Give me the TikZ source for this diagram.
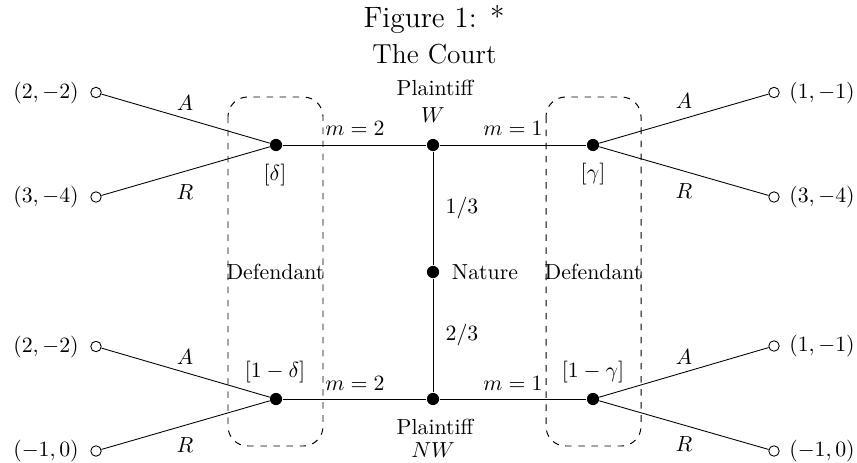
\documentclass[tikz,border=0pt]{standalone}
\begin{document}
\begin{tikzpicture}[x=0.4587pt,y=-0.4587pt,
  dec/.style={circle, fill, inner sep=0pt, minimum size=5.6pt},
  term/.style={circle, draw, fill=white, inner sep=0pt, minimum size=4.8pt},
  lbl/.style={inner sep=0pt},
  defbox/.style={draw, dashed, line width=0.45pt, rounded corners=9pt},
  title/.style={inner sep=0pt}]
\useasboundingbox (0,0) rectangle (857,463);
% title
\node[title, anchor=base, font=\fontsize{13.5}{16}\selectfont] (fig) at (434,28) {Figure 1:\hspace{0.45em}*};
\node[title, anchor=base, font=\fontsize{12.6}{15}\selectfont] (court) at (434.5,64) {The Court};
% information sets
\draw[defbox] (228,97) rectangle (323,446);
\draw[defbox] (546,97) rectangle (641,446);
\node[lbl] (defL) at (275.5,272) {Defendant};
\node[lbl] (defR) at (593.5,272) {Defendant};
% decision nodes
\node[dec] (d1) at (276,145) {};
\node[dec] (pw) at (433,145) {};
\node[dec] (g1) at (593,145) {};
\node[dec] (nat) at (433,272) {};
\node[dec] (d2) at (276,399) {};
\node[dec] (pnw) at (433,399) {};
\node[dec] (g2) at (593,399) {};
% terminal nodes
\node[term] (t1) at (96,92.5) {};
\node[term] (t2) at (96,197) {};
\node[term] (t3) at (774,92.5) {};
\node[term] (t4) at (774,197) {};
\node[term] (t5) at (96,346.5) {};
\node[term] (t6) at (96,451) {};
\node[term] (t7) at (774,346) {};
\node[term] (t8) at (774,451) {};
% edges
\draw (d1) -- (t1);
\draw (d1) -- (t2);
\draw (d1) -- (pw);
\draw (pw) -- (g1);
\draw (g1) -- (t3);
\draw (g1) -- (t4);
\draw (pw) -- (nat);
\draw (nat) -- (pnw);
\draw (d2) -- (pnw);
\draw (pnw) -- (g2);
\draw (d2) -- (t5);
\draw (d2) -- (t6);
\draw (g2) -- (t7);
\draw (g2) -- (t8);
% payoffs
\node[lbl] (p1) at (46,93) {$(2,-2)$};
\node[lbl] (p2) at (46,197) {$(3,-4)$};
\node[lbl] (p3) at (822,93) {$(1,-1)$};
\node[lbl] (p4) at (822,197) {$(3,-4)$};
\node[lbl] (p5) at (46,347) {$(2,-2)$};
\node[lbl] (p6) at (46,451) {$(-1,0)$};
\node[lbl] (p7) at (822,346) {$(1,-1)$};
\node[lbl] (p8) at (822,451) {$(-1,0)$};
% action labels
\node[lbl] (a1) at (185,103) {$A$};
\node[lbl] (r1) at (185,192) {$R$};
\node[lbl] (a2) at (684,101) {$A$};
\node[lbl] (r2) at (684,191) {$R$};
\node[lbl] (a3) at (185,357) {$A$};
\node[lbl] (r3) at (185,445) {$R$};
\node[lbl] (a4) at (684,357) {$A$};
\node[lbl] (r4) at (684,444) {$R$};
\node[lbl] (m1) at (355,128) {$m=2$};
\node[lbl] (m2) at (513,128) {$m=1$};
\node[lbl] (m3) at (355,383) {$m=2$};
\node[lbl] (m4) at (513,383) {$m=1$};
% beliefs
\node[lbl] (b1) at (275,175) {$[\delta]$};
\node[lbl] (b2) at (593,174) {$[\gamma]$};
\node[lbl] (b3) at (275,372) {$[1-\delta]$};
\node[lbl] (b4) at (593,372) {$[1-\gamma]$};
% players / nature
\node[lbl] (plW) at (435,88) {Plaintiff};
\node[lbl] (W) at (433,115) {$W$};
\node[lbl] (plNW) at (435,427) {Plaintiff};
\node[lbl] (NW) at (433,450) {$NW$};
\node[lbl] (natl) at (485,272) {Nature};
\node[lbl] (q1) at (462,208) {$1/3$};
\node[lbl] (q2) at (462,335) {$2/3$};
\end{tikzpicture}
\end{document}
